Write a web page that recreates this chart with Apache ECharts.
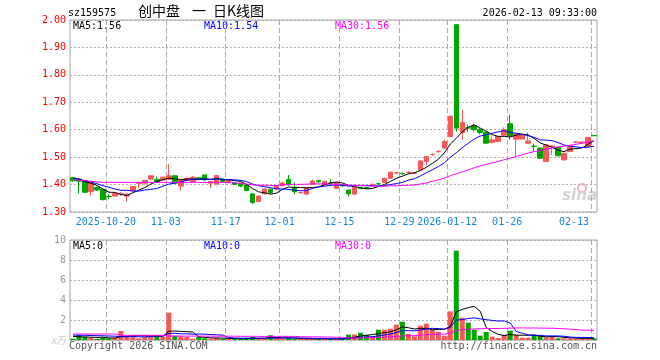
<!DOCTYPE html>
<html><head><meta charset="utf-8">
<script src="https://cdn.jsdelivr.net/npm/echarts@6/dist/echarts.min.js"></script>
<style>html,body{margin:0;padding:0;background:#fff}#c{width:660px;height:360px}</style>
</head><body><div id="c"></div>
<script>
const dates = ['2025-10-10','2025-10-13','2025-10-14','2025-10-15','2025-10-16','2025-10-17','2025-10-20','2025-10-21','2025-10-22','2025-10-23',
'2025-10-24','2025-10-27','2025-10-28','2025-10-29','2025-10-30','2025-10-31','2025-11-03','2025-11-04','2025-11-05','2025-11-06',
'2025-11-07','2025-11-10','2025-11-11','2025-11-12','2025-11-13','2025-11-14','2025-11-17','2025-11-18','2025-11-19','2025-11-20',
'2025-11-21','2025-11-24','2025-11-25','2025-11-26','2025-11-27','2025-12-01','2025-12-02','2025-12-03','2025-12-04','2025-12-05',
'2025-12-08','2025-12-09','2025-12-10','2025-12-11','2025-12-12','2025-12-15','2025-12-16','2025-12-17','2025-12-18','2025-12-19',
'2025-12-22','2025-12-23','2025-12-24','2025-12-25','2025-12-26','2025-12-29','2025-12-30','2025-12-31','2026-01-05','2026-01-06',
'2026-01-07','2026-01-08','2026-01-09','2026-01-12','2026-01-13','2026-01-14','2026-01-15','2026-01-16','2026-01-19','2026-01-20',
'2026-01-21','2026-01-22','2026-01-23','2026-01-26','2026-01-27','2026-01-28','2026-01-29','2026-01-30','2026-02-02','2026-02-03',
'2026-02-04','2026-02-05','2026-02-06','2026-02-09','2026-02-10','2026-02-11','2026-02-12','2026-02-13'];

const open = [1.425,1.42,1.415,1.374,1.39,1.383,1.357,1.358,1.367,1.358,
1.377,1.404,1.405,1.42,1.419,1.417,1.419,1.432,1.395,1.415,
1.411,1.425,1.435,1.405,1.402,1.42,1.408,1.407,1.405,1.399,
1.366,1.338,1.366,1.383,1.384,1.396,1.419,1.386,1.37,1.365,
1.402,1.415,1.399,1.406,1.386,1.40,1.38,1.365,1.39,1.39,
1.40,1.403,1.407,1.423,1.442,1.441,1.444,1.441,1.453,1.484,
1.509,1.52,1.533,1.575,1.983,1.59,1.607,1.614,1.60,1.591,
1.553,1.557,1.58,1.622,1.565,1.566,1.551,1.54,1.533,1.484,
1.537,1.536,1.49,1.521,1.554,1.552,1.539,1.579];

const close = [1.414,1.412,1.372,1.407,1.38,1.346,1.356,1.368,1.368,1.365,
1.393,1.405,1.415,1.432,1.41,1.427,1.432,1.405,1.415,1.423,
1.427,1.419,1.417,1.411,1.433,1.411,1.417,1.401,1.395,1.378,
1.335,1.358,1.384,1.371,1.396,1.406,1.399,1.374,1.371,1.389,
1.413,1.41,1.412,1.405,1.407,1.395,1.366,1.39,1.385,1.386,
1.401,1.402,1.423,1.445,1.443,1.44,1.445,1.442,1.486,1.502,
1.51,1.521,1.557,1.649,1.606,1.627,1.606,1.60,1.59,1.551,
1.563,1.575,1.60,1.579,1.585,1.581,1.559,1.539,1.496,1.545,
1.541,1.505,1.514,1.539,1.555,1.555,1.572,1.578];

const low = [1.411,1.368,1.37,1.36,1.377,1.341,1.347,1.356,1.359,1.338,
1.375,1.388,1.399,1.418,1.407,1.415,1.417,1.403,1.378,1.413,
1.409,1.417,1.415,1.387,1.40,1.409,1.406,1.399,1.39,1.376,
1.328,1.336,1.364,1.366,1.382,1.394,1.397,1.364,1.368,1.363,
1.40,1.405,1.397,1.395,1.384,1.393,1.356,1.363,1.383,1.384,
1.398,1.399,1.405,1.421,1.438,1.436,1.44,1.438,1.451,1.469,
1.505,1.516,1.531,1.573,1.594,1.563,1.591,1.594,1.583,1.547,
1.551,1.555,1.578,1.563,1.50,1.564,1.549,1.52,1.494,1.482,
1.508,1.502,1.488,1.519,1.551,1.55,1.537,1.576];

const high = [1.427,1.424,1.417,1.409,1.393,1.385,1.365,1.37,1.372,1.367,
1.395,1.409,1.418,1.434,1.429,1.429,1.475,1.434,1.417,1.425,
1.432,1.427,1.437,1.413,1.435,1.422,1.419,1.409,1.407,1.401,
1.368,1.36,1.386,1.385,1.398,1.41,1.435,1.408,1.373,1.391,
1.418,1.417,1.414,1.42,1.409,1.402,1.382,1.392,1.392,1.392,
1.403,1.405,1.425,1.447,1.447,1.444,1.449,1.445,1.488,1.504,
1.514,1.525,1.564,1.651,1.985,1.673,1.618,1.621,1.606,1.593,
1.575,1.577,1.608,1.655,1.587,1.583,1.59,1.549,1.535,1.547,
1.543,1.538,1.516,1.541,1.559,1.557,1.574,1.58];

// volume, 万
const volume = [0.13,0.5,0.33,0.23,0.1,0.23,0.17,0.23,0.9,0.33,
0.5,0.17,0.33,0.5,0.5,0.33,2.73,0.43,0.35,0.33,
0.13,0.33,0.17,0.13,0.23,0.13,0.13,0.1,0.1,0.23,
0.3,0.17,0.13,0.47,0.2,0.13,0.17,0.1,0.1,0.13,
0.13,0.1,0.13,0.1,0.1,0.1,0.53,0.55,0.73,0.5,
0.4,1.03,1.03,1.13,1.53,1.83,0.63,0.37,1.43,1.63,
1.03,0.83,0.43,2.87,8.93,2.23,1.73,1.03,0.43,0.8,
0.33,0.2,0.5,0.93,0.5,0.23,0.23,0.53,0.37,0.27,
0.33,0.17,0.17,0.17,0.17,0.17,0.17,0.17];

// moving-average values before enough history is shown
const priceMA5Head = [1.423,1.42,1.41,1.405];
const priceMA10Head = [1.421,1.419,1.414,1.409,1.403,1.396,1.39,1.384,1.379];
const priceMA30Head = [1.418,1.416,1.414,1.412,1.41,1.408,1.408,1.408,1.408,1.408,
1.408,1.408,1.408,1.408,1.408,1.408,1.408,1.408,1.408,1.408,
1.408,1.408,1.408,1.408,1.408,1.408,1.407,1.406,1.404];
const volMA5Head = [0.35,0.33,0.3,0.28];
const volMA10Head = [0.5,0.48,0.47,0.45,0.43,0.42,0.4,0.38,0.35];
const volMA30Head = [0.6,0.6,0.6,0.6,0.6,0.6,0.6,0.6,0.47,0.47,
0.47,0.47,0.47,0.47,0.47,0.47,0.4,0.4,0.4,0.39,
0.39,0.39,0.39,0.38,0.38,0.38,0.38,0.38,0.37];

const tickDates = ['2025-10-20','2025-11-03','2025-11-17','2025-12-01','2025-12-15','2025-12-29','2026-01-12','2026-01-26','2026-02-13'];
const tickLabels = ['2025-10-20','11-03','11-17','12-01','12-15','12-29','2026-01-12','01-26','02-13'];
const priceTicks = {min:1.3, max:2.0, interval:0.1};
const volTicks = {min:0, max:10, interval:2};

function movingAvg(arr, n, head){
  return arr.map((_, i) => i < n - 1 ? head[i] :
    +(arr.slice(i - n + 1, i + 1).reduce((a, b) => a + b, 0) / n).toFixed(4));
}
const ma5 = movingAvg(close, 5, priceMA5Head);
const ma10 = movingAvg(close, 10, priceMA10Head);
const ma30 = movingAvg(close, 30, priceMA30Head);
const vma5 = movingAvg(volume, 5, volMA5Head);
const vma10 = movingAvg(volume, 10, volMA10Head);
const vma30 = movingAvg(volume, 30, volMA30Head);

const RED = '#fa5858', GREEN = '#00a600';
const MONO = 'DejaVu Sans Mono';
const ohlc = dates.map((d, i) => [open[i], close[i], low[i], high[i]]);
const volData = volume.map((v, i) => ({value: v, itemStyle: {color: close[i] >= open[i] ? RED : GREEN}}));
const gridDates = dates.concat(['']);
const isTick = (idx, val) => tickDates.indexOf(val) >= 0;
const lastTick = tickDates[tickDates.length - 1];

const chart = echarts.init(document.getElementById('c'), null, {renderer: 'canvas'});
const mk = (txt, x, y, color) => ({type: 'text', left: x, top: y, silent: true,
  style: {text: txt, fill: color, font: '10px "' + MONO + '"'}});
const cjk = (txt, x) => ({type: 'text', left: x, top: 4, silent: true,
  style: {text: txt, fill: '#000', font: '14px "Noto Sans CJK SC"'}});

chart.setOption({
  animation: false,
  backgroundColor: '#fff',
  grid: [
    {left: 70, top: 20, width: 527, height: 192, show: true, borderColor: '#a0a0a0', borderWidth: 1, backgroundColor: 'transparent'},
    {left: 70, top: 240, width: 527, height: 100, show: true, borderColor: '#a0a0a0', borderWidth: 1, backgroundColor: 'transparent'}
  ],
  xAxis: [
    {type: 'category', gridIndex: 0, data: dates, boundaryGap: true, show: false},
    {type: 'category', gridIndex: 0, data: gridDates, boundaryGap: false, position: 'bottom',
     axisLine: {show: false}, axisTick: {show: false},
     axisLabel: {interval: isTick, color: '#1688d2', fontFamily: MONO, fontSize: 10, margin: 5,
       formatter: v => { const k = tickDates.indexOf(v); if (k < 0) return ''; return v === lastTick ? '{r|' + tickLabels[k] + '}' : tickLabels[k]; },
       rich: {r: {color: '#1688d2', fontFamily: MONO, fontSize: 10, padding: [0, 34, 0, 0]}}},
     splitLine: {show: true, interval: isTick, lineStyle: {color: '#aaaaaa', type: [5, 3], width: 1}}},
    {type: 'category', gridIndex: 1, data: dates, boundaryGap: true, show: false},
    {type: 'category', gridIndex: 1, data: gridDates, boundaryGap: false, position: 'bottom',
     axisLine: {show: false}, axisTick: {show: false}, axisLabel: {show: false},
     splitLine: {show: true, interval: isTick, lineStyle: {color: '#aaaaaa', type: [5, 3], width: 1}}}
  ],
  yAxis: [
    {type: 'value', gridIndex: 0, min: priceTicks.min, max: priceTicks.max, interval: priceTicks.interval,
     axisLine: {show: false}, axisTick: {show: false},
     axisLabel: {color: '#ff0000', fontFamily: MONO, fontSize: 10, margin: 4, formatter: v => v.toFixed(2)},
     splitLine: {show: true, lineStyle: {color: '#b0b0b0', type: [2, 2], width: 1}}},
    {type: 'value', gridIndex: 1, min: volTicks.min, max: volTicks.max, interval: volTicks.interval,
     axisLine: {show: false}, axisTick: {show: false},
     axisLabel: {color: '#999999', fontFamily: MONO, fontSize: 10, margin: 4,
       formatter: v => v === 0 ? '{u|x万}' : String(v),
       rich: {u: {color: '#c8c8c8', fontFamily: 'Noto Sans CJK SC', fontSize: 10, fontStyle: 'italic'}}},
     splitLine: {show: true, lineStyle: {color: '#b0b0b0', type: [2, 2], width: 1}}}
  ],
  series: [
    {type: 'candlestick', xAxisIndex: 0, yAxisIndex: 0, data: ohlc, barWidth: 5,
     itemStyle: {color: RED, color0: GREEN, borderColor: RED, borderColor0: GREEN, borderWidth: 1}},
    {type: 'line', xAxisIndex: 0, yAxisIndex: 0, data: ma5, symbol: 'none', lineStyle: {color: '#000', width: 1}, z: 5},
    {type: 'line', xAxisIndex: 0, yAxisIndex: 0, data: ma10, symbol: 'none', lineStyle: {color: '#0000ff', width: 1}, z: 5},
    {type: 'line', xAxisIndex: 0, yAxisIndex: 0, data: ma30, symbol: 'none', lineStyle: {color: '#ff00ff', width: 1}, z: 5},
    {type: 'bar', xAxisIndex: 2, yAxisIndex: 1, data: volData, barWidth: 5},
    {type: 'line', xAxisIndex: 2, yAxisIndex: 1, data: vma5, symbol: 'none', lineStyle: {color: '#000', width: 1}, z: 5},
    {type: 'line', xAxisIndex: 2, yAxisIndex: 1, data: vma10, symbol: 'none', lineStyle: {color: '#0000ff', width: 1}, z: 5},
    {type: 'line', xAxisIndex: 2, yAxisIndex: 1, data: vma30, symbol: 'none', lineStyle: {color: '#ff00ff', width: 1}, z: 5}
  ],
  graphic: [
    mk('sz159575', 68, 8, '#000'),
    cjk('创中盘', 138),
    cjk('一', 192),
    cjk('日K线图', 213),
    {type: 'text', right: 63, top: 8, silent: true, style: {text: '2026-02-13 09:33:00', fill: '#000', font: '10px "' + MONO + '"'}},
    mk('MA5:' + ma5[ma5.length - 1].toFixed(2), 73, 21, '#000'),
    mk('MA10:' + ma10[ma10.length - 1].toFixed(2), 204, 21, '#0000ff'),
    mk('MA30:' + ma30[ma30.length - 1].toFixed(2), 335, 21, '#ff00ff'),
    mk('MA5:0', 73, 241, '#000'),
    mk('MA10:0', 204, 241, '#0000ff'),
    mk('MA30:0', 335, 241, '#ff00ff'),
    mk('Copyright 2026 SINA.COM', 69, 341, '#555'),
    {type: 'text', right: 63, top: 341, silent: true, style: {text: 'http://finance.sina.com.cn', fill: '#555', font: '10px "' + MONO + '"'}},
    {type: 'circle', shape: {cx: 582, cy: 188, r: 4}, silent: true, style: {fill: 'none', stroke: '#f2b4b4', lineWidth: 2}},
    {type: 'text', right: 63, top: 189, silent: true, style: {text: 'sina', fill: '#d2d2d2', font: 'italic bold 15px "DejaVu Sans"'}}
  ]
});
</script>
</body></html>
